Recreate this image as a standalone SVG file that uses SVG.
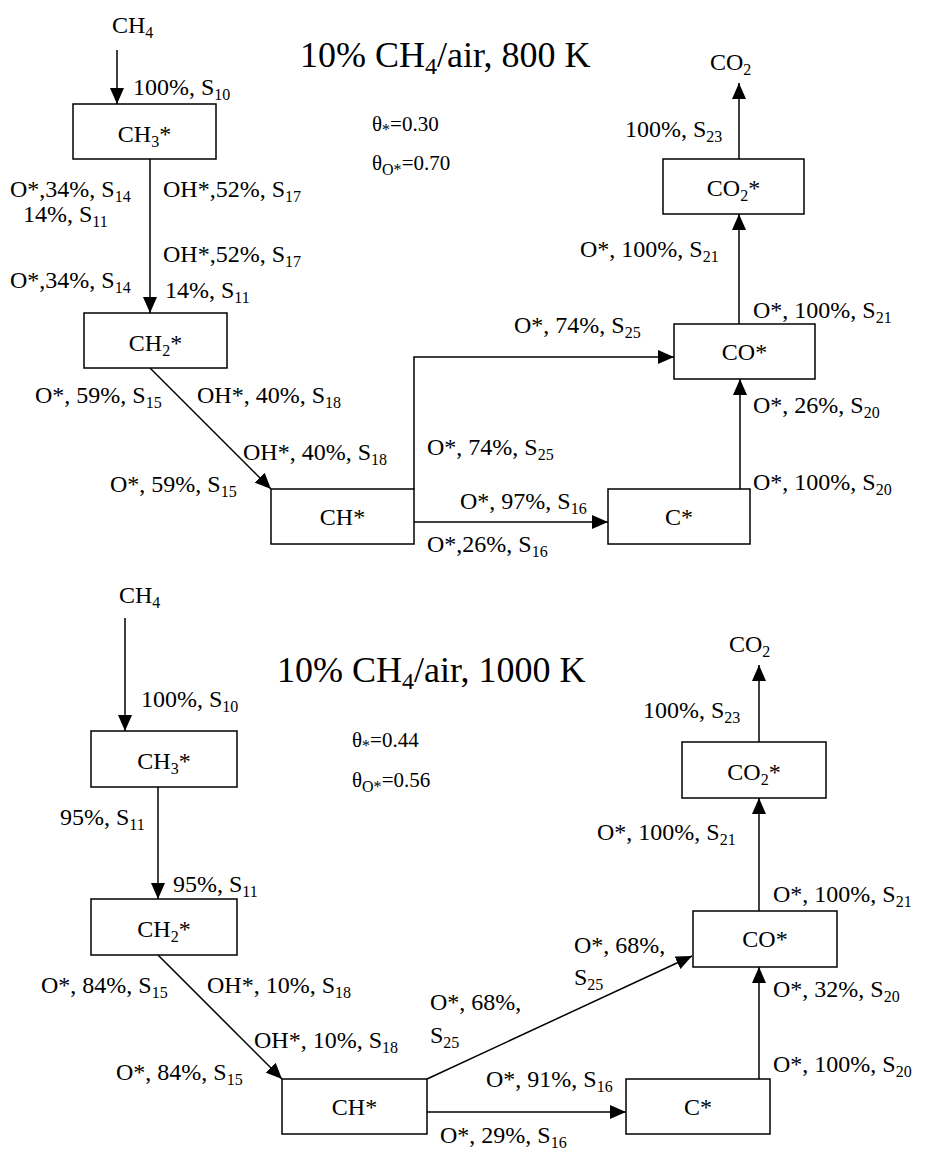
<svg xmlns="http://www.w3.org/2000/svg" width="929" height="1151" viewBox="0 0 929 1151" font-family="'Liberation Serif', 'DejaVu Serif', serif">
<style>
text{font-family:'Liberation Serif','DejaVu Serif',serif;font-size:24px;fill:#000}
.t{font-size:36px}
.th{font-size:21px}
.s{font-size:16px}
.ts{font-size:24px}
.c{text-anchor:middle}
.box{fill:#fff;stroke:#000;stroke-width:1.5}
.ln{fill:none;stroke:#000;stroke-width:1.5;marker-end:url(#ah)}
</style>
<defs>
<marker id="ah" markerUnits="userSpaceOnUse" markerWidth="16" markerHeight="14" viewBox="0 0 16 14" refX="16" refY="7" orient="auto">
<path d="M0,0 L16,7 L0,14 z" fill="#000"/>
</marker>
</defs>
<rect width="929" height="1151" fill="#fff"/>
<g id="connectors">
<line class="ln" x1="117" y1="50" x2="117" y2="104"/>
<line class="ln" x1="150" y1="159" x2="150" y2="313"/>
<line class="ln" x1="150" y1="368" x2="271" y2="489"/>
<polyline class="ln" points="414,489 414,357 674,357"/>
<line class="ln" x1="414" y1="522" x2="608" y2="522"/>
<line class="ln" x1="740" y1="489" x2="740" y2="379"/>
<line class="ln" x1="739" y1="324" x2="739" y2="214"/>
<line class="ln" x1="739" y1="159" x2="739" y2="83"/>
<line class="ln" x1="125" y1="618" x2="125" y2="731"/>
<line class="ln" x1="158" y1="787" x2="158" y2="899"/>
<line class="ln" x1="158" y1="955" x2="282" y2="1079"/>
<line class="ln" x1="427" y1="1079" x2="692" y2="956"/>
<line class="ln" x1="427" y1="1112" x2="626" y2="1112"/>
<line class="ln" x1="759" y1="1079" x2="759" y2="967"/>
<line class="ln" x1="759" y1="911" x2="759" y2="798"/>
<line class="ln" x1="759" y1="742" x2="759" y2="665"/>
</g>
<g id="top-title">
<text class="t" x="300" y="67">10% CH<tspan class="ts" dy="7">4</tspan><tspan dy="-7">/air, 800 K</tspan></text>
<text class="th" x="372" y="131">θ<tspan class="s" dy="4">*</tspan><tspan dy="-4">=0.30</tspan></text>
<text class="th" x="372" y="170">θ<tspan class="s" dy="5">O*</tspan><tspan dy="-5">=0.70</tspan></text>
</g>
<g id="top-CH4"><text x="112" y="33">CH<tspan class="s" dy="5">4</tspan></text></g>
<g id="top-CH3"><rect class="box" x="73" y="104" width="143" height="55"/><text class="c" x="144.5" y="142">CH<tspan class="s" dy="5">3</tspan><tspan dy="-5">*</tspan></text></g>
<g id="top-CH2"><rect class="box" x="84" y="313" width="143" height="55"/><text class="c" x="155.5" y="351">CH<tspan class="s" dy="5">2</tspan><tspan dy="-5">*</tspan></text></g>
<g id="top-CH"><rect class="box" x="271" y="489" width="143" height="55"/><text class="c" x="342.5" y="525">CH*</text></g>
<g id="top-C"><rect class="box" x="608" y="489" width="142" height="55"/><text class="c" x="679" y="525">C*</text></g>
<g id="top-CO"><rect class="box" x="674" y="324" width="141" height="55"/><text class="c" x="744.5" y="360">CO*</text></g>
<g id="top-CO2s"><rect class="box" x="663" y="159" width="141" height="55"/><text class="c" x="733.5" y="196">CO<tspan class="s" dy="5">2</tspan><tspan dy="-5">*</tspan></text></g>
<g id="top-CO2"><text x="710" y="70">CO<tspan class="s" dy="5">2</tspan></text></g>
<g id="top-labels">
<text x="133" y="95">100%, S<tspan class="s" dy="5">10</tspan></text>
<text x="10" y="197">O*,34%, S<tspan class="s" dy="5">14</tspan></text>
<text x="23" y="222">14%, S<tspan class="s" dy="5">11</tspan></text>
<text x="163" y="197">OH*,52%, S<tspan class="s" dy="5">17</tspan></text>
<text x="163" y="262">OH*,52%, S<tspan class="s" dy="5">17</tspan></text>
<text x="10" y="288">O*,34%, S<tspan class="s" dy="5">14</tspan></text>
<text x="165" y="298">14%, S<tspan class="s" dy="5">11</tspan></text>
<text x="35" y="403">O*, 59%, S<tspan class="s" dy="5">15</tspan></text>
<text x="197" y="403">OH*, 40%, S<tspan class="s" dy="5">18</tspan></text>
<text x="243" y="460">OH*, 40%, S<tspan class="s" dy="5">18</tspan></text>
<text x="110" y="492">O*, 59%, S<tspan class="s" dy="5">15</tspan></text>
<text x="514" y="333">O*, 74%, S<tspan class="s" dy="5">25</tspan></text>
<text x="427" y="455">O*, 74%, S<tspan class="s" dy="5">25</tspan></text>
<text x="460" y="509">O*, 97%, S<tspan class="s" dy="5">16</tspan></text>
<text x="427" y="552">O*,26%, S<tspan class="s" dy="5">16</tspan></text>
<text x="753" y="413">O*, 26%, S<tspan class="s" dy="5">20</tspan></text>
<text x="753" y="490">O*, 100%, S<tspan class="s" dy="5">20</tspan></text>
<text x="753" y="318">O*, 100%, S<tspan class="s" dy="5">21</tspan></text>
<text x="580" y="257">O*, 100%, S<tspan class="s" dy="5">21</tspan></text>
<text x="625" y="137">100%, S<tspan class="s" dy="5">23</tspan></text>
</g>
<g id="bottom-title">
<text class="t" x="277" y="682">10% CH<tspan class="ts" dy="7">4</tspan><tspan dy="-7">/air, 1000 K</tspan></text>
<text class="th" x="352" y="747">θ<tspan class="s" dy="4">*</tspan><tspan dy="-4">=0.44</tspan></text>
<text class="th" x="352" y="787">θ<tspan class="s" dy="5">O*</tspan><tspan dy="-5">=0.56</tspan></text>
</g>
<g id="bottom-CH4"><text x="119" y="603">CH<tspan class="s" dy="5">4</tspan></text></g>
<g id="bottom-CH3"><rect class="box" x="91" y="731" width="146" height="56"/><text class="c" x="164" y="769">CH<tspan class="s" dy="5">3</tspan><tspan dy="-5">*</tspan></text></g>
<g id="bottom-CH2"><rect class="box" x="91" y="899" width="146" height="56"/><text class="c" x="164" y="937">CH<tspan class="s" dy="5">2</tspan><tspan dy="-5">*</tspan></text></g>
<g id="bottom-CH"><rect class="box" x="282" y="1079" width="145" height="55"/><text class="c" x="354.5" y="1115">CH*</text></g>
<g id="bottom-C"><rect class="box" x="626" y="1079" width="144" height="55"/><text class="c" x="698" y="1115">C*</text></g>
<g id="bottom-CO"><rect class="box" x="693" y="911" width="144" height="56"/><text class="c" x="765" y="947">CO*</text></g>
<g id="bottom-CO2s"><rect class="box" x="682" y="742" width="144" height="56"/><text class="c" x="754" y="780">CO<tspan class="s" dy="5">2</tspan><tspan dy="-5">*</tspan></text></g>
<g id="bottom-CO2"><text x="729" y="652">CO<tspan class="s" dy="5">2</tspan></text></g>
<g id="bottom-labels">
<text x="141" y="707">100%, S<tspan class="s" dy="5">10</tspan></text>
<text x="60" y="825">95%, S<tspan class="s" dy="5">11</tspan></text>
<text x="173" y="892">95%, S<tspan class="s" dy="5">11</tspan></text>
<text x="41" y="993">O*, 84%, S<tspan class="s" dy="5">15</tspan></text>
<text x="207" y="993">OH*, 10%, S<tspan class="s" dy="5">18</tspan></text>
<text x="254" y="1048">OH*, 10%, S<tspan class="s" dy="5">18</tspan></text>
<text x="116" y="1080">O*, 84%, S<tspan class="s" dy="5">15</tspan></text>
<text x="574" y="953">O*, 68%,</text>
<text x="574" y="985">S<tspan class="s" dy="5">25</tspan></text>
<text x="430" y="1010">O*, 68%,</text>
<text x="430" y="1043">S<tspan class="s" dy="5">25</tspan></text>
<text x="486" y="1087">O*, 91%, S<tspan class="s" dy="5">16</tspan></text>
<text x="440" y="1143">O*, 29%, S<tspan class="s" dy="5">16</tspan></text>
<text x="773" y="902">O*, 100%, S<tspan class="s" dy="5">21</tspan></text>
<text x="773" y="997">O*, 32%, S<tspan class="s" dy="5">20</tspan></text>
<text x="773" y="1072">O*, 100%, S<tspan class="s" dy="5">20</tspan></text>
<text x="597" y="840">O*, 100%, S<tspan class="s" dy="5">21</tspan></text>
<text x="643" y="718">100%, S<tspan class="s" dy="5">23</tspan></text>
</g>
</svg>
